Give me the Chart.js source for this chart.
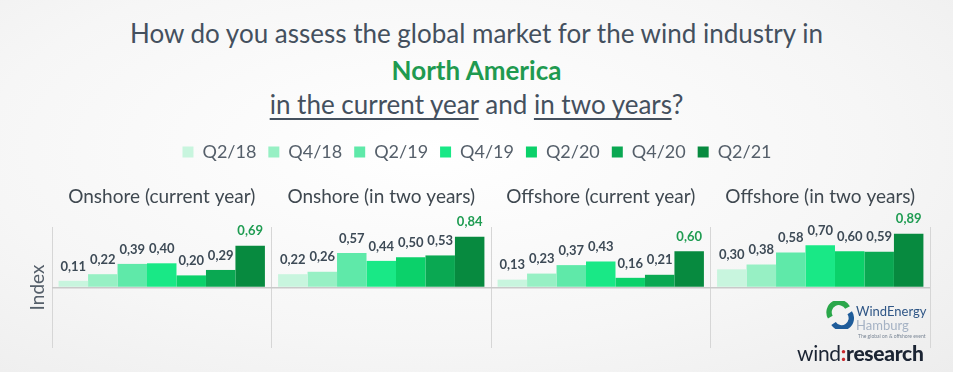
<!DOCTYPE html>
<html>
<head>
<meta charset="utf-8">
<script src="https://cdn.jsdelivr.net/npm/chart.js@4"></script>
<style>
  html,body{margin:0;padding:0;}
  body{width:953px;height:372px;overflow:hidden;position:relative;
       background:radial-gradient(ellipse at 45% 40%, #ffffff 0%, #f6f6f6 60%, #ededed 100%);
       font-family:Lato, "Open Sans", sans-serif;}
  #chartBox{position:absolute;left:0;top:0;width:953px;height:372px;}
  .head{position:absolute;left:0;width:953px;text-align:center;color:#44505e;font-size:26px;line-height:1;}
  .head u{text-decoration-thickness:1.5px;text-underline-offset:4px;}
  .green{color:#1f9a50;font-weight:700;}
  .logo{position:absolute;color:#2f5686;}
</style>
</head>
<body>
<div class="head" style="top:20px">How do you assess the global market for the wind industry in</div>
<div class="head green" style="top:57px">North America</div>
<div class="head" style="top:91px"><u>in the current year</u> and <u>in two years</u>?</div>
<div id="chartBox"><canvas id="c" width="953" height="372"></canvas></div>

<svg class="logo" style="left:826px;top:301px" width="28" height="28" viewBox="0 0 26 26">
  <path d="M4 15 A9 9 0 0 1 20 6" stroke="#2aa74a" stroke-width="5" fill="none"/>
  <path d="M22 11 A9 9 0 0 1 7 21" stroke="#1f5c9a" stroke-width="5" fill="none"/>
</svg>
<div class="logo" style="left:856px;top:303px;font-size:13px;">WindEnergy</div>
<div class="logo" style="left:856px;top:317px;font-size:13px;color:#a5b2c4;">Hamburg</div>
<div class="logo" style="left:858px;top:333px;font-size:5px;color:#7a8695;">The global on &amp; offshore event</div>
<div class="logo" style="left:797px;top:340px;font-size:21px;color:#1b2433;letter-spacing:-0.3px;">wind<span style="color:#c8262b;font-weight:900">:</span><b style="font-weight:900">research</b></div>

<script>
// data
const categories = ["Onshore (current year)", "Onshore (in two years)", "Offshore (current year)", "Offshore (in two years)"];
const periods = ["Q2/18", "Q4/18", "Q2/19", "Q4/19", "Q2/20", "Q4/20", "Q2/21"];
const q2_18 = [0.11, 0.22, 0.13, 0.30];
const q4_18 = [0.22, 0.26, 0.23, 0.38];
const q2_19 = [0.39, 0.57, 0.37, 0.58];
const q4_19 = [0.40, 0.44, 0.43, 0.70];
const q2_20 = [0.20, 0.50, 0.16, 0.60];
const q4_20 = [0.29, 0.53, 0.21, 0.59];
const q2_21 = [0.69, 0.84, 0.60, 0.89];
const series = [q2_18, q4_18, q2_19, q4_19, q2_20, q4_20, q2_21];
const colors = ["#c8f5de", "#97f0c4", "#5fe9a9", "#19e886", "#0bd16a", "#0aa852", "#078a3f"];

// value labels above bars, comma decimals, last series in green
const valueLabels = {
  id: "valueLabels",
  afterDatasetsDraw(chart){
    const ctx = chart.ctx;
    ctx.save();
    ctx.font = "bold 13px Lato, 'Open Sans', sans-serif";
    ctx.textAlign = "center";
    ctx.textBaseline = "bottom";
    chart.data.datasets.forEach((ds, i) => {
      const meta = chart.getDatasetMeta(i);
      ctx.fillStyle = i === chart.data.datasets.length - 1 ? "#1f9c52" : "#3d4a56";
      meta.data.forEach((bar, j) => {
        ctx.fillText(ds.data[j].toFixed(2).replace(".", ","), bar.x, bar.y - 8);
      });
    });
    ctx.restore();
  }
};

const font = "Lato, 'Open Sans', sans-serif";

new Chart(document.getElementById("c"), {
  type: "bar",
  data: {
    labels: categories,
    datasets: series.map((d, i) => ({
      label: periods[i], data: d, backgroundColor: colors[i],
      barPercentage: 1, categoryPercentage: 0.94
    }))
  },
  options: {
    responsive: false,
    animation: false,
    layout: { padding: { top: 131, left: 24, right: 23, bottom: 24 } },
    plugins: {
      legend: {
        position: "top",
        labels: { boxWidth: 11, boxHeight: 11, padding: 12, color: "#555f6a",
                  font: { size: 18, family: font } }
      },
      tooltip: { enabled: false }
    },
    scales: {
      x: {
        position: "top",
        grid: { color: "#d6d6d6", drawTicks: false, offset: true },
        border: { display: false },
        ticks: { color: "#3f4850", padding: 19, font: { size: 19, family: font } },
        afterFit(s){ s.height = 56; }
      },
      y: {
        min: -1, max: 1,
        ticks: { display: false, stepSize: 1 },
        grid: { drawTicks: false, lineWidth: 1.5,
                color: c => c.tick && c.tick.value === 0 ? "#c9c9c9" : "transparent" },
        border: { display: false },
        title: { display: true, text: "Index", color: "#555f6a", padding: 2,
                 font: { size: 19, family: font } },
        afterFit(s){ s.width = 28; }
      }
    }
  },
  plugins: [valueLabels]
});
</script>
</body>
</html>
